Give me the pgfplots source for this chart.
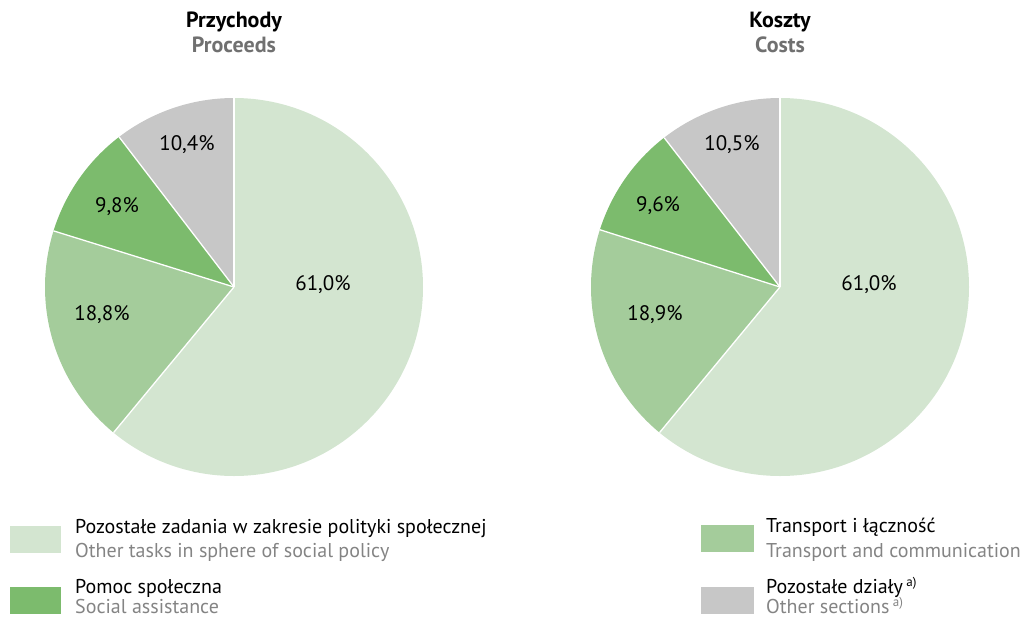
\documentclass[border=0pt]{standalone}
\usepackage{pgfplots}
\pgfplotsset{compat=1.18}
\usepackage{pgfplotstable}
\usepackage{fontspec}
\setmainfont{PT Sans}

\definecolor{slA}{RGB}{211,229,208}
\definecolor{slB}{RGB}{164,204,155}
\definecolor{slC}{RGB}{124,187,109}
\definecolor{slD}{RGB}{199,199,199}
\definecolor{titlegray}{RGB}{112,112,112}
\definecolor{subgray}{RGB}{132,132,132}

% share in %, label position (offset from pie centre, px)
\pgfplotstableread{
share lx ly
61.0 89 2
18.8 -132 -28
9.8 -117 80
10.4 -47 142
}\proceeds
\pgfplotstableread{
share lx ly
61.0 89 2
18.9 -125 -28
9.6 -122 81
10.5 -48 142
}\costs

\newcommand\slicecolor[1]{\ifcase#1 slA\or slB\or slC\or slD\fi}
\newcommand\supnote[1]{\,\raisebox{7pt}{\fontsize{13}{13}\selectfont #1}}

% slices clockwise from 12 o'clock, white separators, labels
\newcommand\drawpie[1]{%
  \def\acc{90}%
  \pgfplotsforeachungrouped \i in {0,1,2,3}{%
    \pgfplotstablegetelem{\i}{share}\of{#1}\let\v\pgfplotsretval
    \pgfmathsetmacro\aend{\acc-3.6*\v}%
    \pgfmathsetmacro\sx{189*cos(\acc)}%
    \pgfmathsetmacro\sy{189*sin(\acc)}%
    \edef\col{\slicecolor{\i}}%
    \edef\tmp{\noexpand\fill[\col] (axis cs:0,0) -- (axis cs:\sx,\sy)
      arc[start angle=\acc, end angle=\aend, radius=189pt] -- cycle;}%
    \tmp
    \let\acc\aend
  }%
  \def\acc{90}%
  \pgfplotsforeachungrouped \i in {0,1,2,3}{%
    \pgfplotstablegetelem{\i}{share}\of{#1}\let\v\pgfplotsretval
    \pgfplotstablegetelem{\i}{lx}\of{#1}\let\lx\pgfplotsretval
    \pgfplotstablegetelem{\i}{ly}\of{#1}\let\ly\pgfplotsretval
    \pgfmathsetmacro\sx{189*cos(\acc)}%
    \pgfmathsetmacro\sy{189*sin(\acc)}%
    \edef\tmp{\noexpand\draw[white, line width=1.3pt] (axis cs:0,0) -- (axis cs:\sx,\sy);
      \noexpand\node[font=\noexpand\fontsize{21}{23}\noexpand\selectfont] at (axis cs:\lx,\ly)
      {\noexpand\pgfmathprintnumber[assume math mode=true,use comma,fixed,fixed zerofill,precision=1]{\v}\noexpand\%};}%
    \tmp
    \pgfmathsetmacro\acc{\acc-3.6*\v}%
  }%
}

\pgfplotsset{pie/.style={anchor=origin, x=1pt, y=1pt, xmin=-190, xmax=190, ymin=-190, ymax=190,
  hide axis, clip=false, disabledatascaling}}

\begin{document}
\begin{tikzpicture}
\useasboundingbox (0,0) rectangle (1036pt,-618pt);

\begin{axis}[pie, at={(234pt,-287pt)}]
\drawpie{\proceeds}
\end{axis}
\begin{axis}[pie, at={(780pt,-287pt)}]
\drawpie{\costs}
\end{axis}

\tikzset{title/.style={anchor=base, inner sep=0pt, font=\bfseries\fontsize{22}{24}\selectfont},
  lg/.style={anchor=base west, inner sep=0pt, font=\fontsize{20}{22}\selectfont}}
\node[title] at (234pt,-28pt) {Przychody};
\node[title, titlegray] at (234pt,-53pt) {Proceeds};
\node[title] at (780pt,-28pt) {Koszty};
\node[title, titlegray] at (780pt,-53pt) {Costs};

\fill[slA] (10pt,-526pt) rectangle (61pt,-553pt);
\node[lg] at (75pt,-533pt) {Pozostałe zadania w zakresie polityki społecznej};
\node[lg, subgray] at (75pt,-557pt) {Other tasks in sphere of social policy};
\fill[slC] (10pt,-587pt) rectangle (61pt,-614pt);
\node[lg] at (75pt,-593pt) {Pomoc społeczna};
\node[lg, subgray] at (75pt,-613pt) {Social assistance};

\fill[slB] (701pt,-525pt) rectangle (754pt,-552pt);
\node[lg] at (766pt,-532pt) {Transport i łączność};
\node[lg, subgray] at (766pt,-557pt) {Transport and communication};
\fill[slD] (701pt,-587pt) rectangle (754pt,-614pt);
\node[lg] at (766pt,-593pt) {Pozostałe działy\supnote{a)}};
\node[lg, subgray] at (766pt,-613pt) {Other sections\supnote{a)}};
\end{tikzpicture}
\end{document}
